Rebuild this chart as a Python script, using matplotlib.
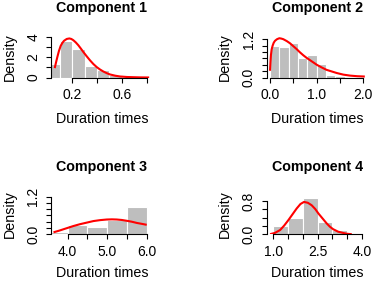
import matplotlib
matplotlib.use("Agg")
import matplotlib.pyplot as plt

plt.rcParams['font.family'] = ['Liberation Sans', 'DejaVu Sans']

# histogram bins (left edges), bar heights (density) and fitted curve, per component
c1_edges = [0.0, 0.1, 0.2, 0.3, 0.4, 0.5, 0.6, 0.7]
c1_heights = [1.30, 3.56, 2.83, 1.15, 0.69, 0.22, 0.08, 0.04]
c1_x = [0.058, 0.068, 0.079, 0.092, 0.106, 0.12, 0.133, 0.155, 0.176, 0.192, 0.208, 0.228,
        0.248, 0.268, 0.289, 0.316, 0.343, 0.37, 0.397, 0.424, 0.45, 0.477, 0.504, 0.545,
        0.585, 0.64, 0.69, 0.75, 0.82]
c1_y = [0.92, 1.45, 2.0, 2.6, 3.1, 3.4, 3.6, 3.78, 3.83, 3.78, 3.66, 3.44,
        3.17, 2.85, 2.5, 2.08, 1.68, 1.32, 1.02, 0.78, 0.59, 0.43, 0.30, 0.18,
        0.10, 0.05, 0.03, 0.01, 0.0]

c2_edges = [0.0, 0.2, 0.4, 0.6, 0.8, 1.0, 1.2, 1.4, 1.6, 1.8]
c2_heights = [0.99, 0.95, 1.09, 0.62, 0.69, 0.42, 0.09, 0.04, 0.02, 0.02]
c2_x = [0.0, 0.01, 0.02, 0.035, 0.057, 0.08, 0.107, 0.15, 0.2, 0.24, 0.285, 0.36, 0.43,
        0.5, 0.57, 0.64, 0.71, 0.78, 0.86, 0.93, 1.0, 1.1, 1.21, 1.32, 1.43, 1.57,
        1.71, 1.87, 2.03]
c2_y = [0.21, 0.48, 0.70, 0.88, 1.0, 1.09, 1.15, 1.2, 1.23, 1.22, 1.2, 1.14, 1.07,
        0.98, 0.89, 0.79, 0.70, 0.62, 0.54, 0.47, 0.40, 0.32, 0.24, 0.19, 0.14, 0.09,
        0.06, 0.04, 0.03]

c3_edges = [3.5, 4.0, 4.5, 5.0, 5.5]
c3_heights = [0.08, 0.30, 0.23, 0.45, 0.87]
c3_x = [3.64, 3.8, 3.97, 4.14, 4.31, 4.48, 4.65, 4.82, 4.99, 5.12, 5.24, 5.37, 5.49,
        5.62, 5.75, 5.88, 6.0]
c3_y = [0.06, 0.12, 0.19, 0.26, 0.32, 0.37, 0.42, 0.45, 0.47, 0.475, 0.47, 0.455, 0.43,
        0.40, 0.36, 0.33, 0.30]

c4_edges = [1.0, 1.5, 2.0, 2.5, 3.0, 3.5]
c4_heights = [0.19, 0.40, 0.87, 0.30, 0.10, 0.02]
c4_x = [0.89, 1.05, 1.23, 1.37, 1.51, 1.65, 1.79, 1.92, 2.04, 2.17, 2.30, 2.42, 2.53,
        2.67, 2.81, 2.92, 3.03, 3.2, 3.37, 3.5, 3.66]
c4_y = [0.0, 0.03, 0.10, 0.21, 0.34, 0.48, 0.62, 0.73, 0.78, 0.76, 0.70, 0.61, 0.50,
        0.38, 0.26, 0.18, 0.12, 0.06, 0.03, 0.01, 0.0]

panels = [
    ("Component 1", c1_edges, c1_heights, 0.1, c1_x, c1_y),
    ("Component 2", c2_edges, c2_heights, 0.2, c2_x, c2_y),
    ("Component 3", c3_edges, c3_heights, 0.5, c3_x, c3_y),
    ("Component 4", c4_edges, c4_heights, 0.5, c4_x, c4_y),
]

# axes limits / ticks (layout only)
xlims = [(0.028, 0.851), (-0.075, 2.109), (3.577, 6.159), (0.769, 4.227)]
ylims = [(0, 4.07), (0, 1.30), (0, 1.27), (0, 0.96)]
xticks = [[0.2, 0.4, 0.6, 0.8], [0.0, 0.5, 1.0, 1.5, 2.0],
          [4.0, 4.5, 5.0, 5.5, 6.0], [1.0, 1.5, 2.0, 2.5, 3.0, 3.5, 4.0]]
xticklabels = [["0.2", "", "0.6", ""], ["0.0", "", "1.0", "", "2.0"],
               ["4.0", "", "5.0", "", "6.0"], ["1.0", "", "", "2.5", "", "", "4.0"]]
yticks = [[0, 1, 2, 3, 4], [0, 0.2, 0.4, 0.6, 0.8, 1.0, 1.2],
          [0, 0.2, 0.4, 0.6, 0.8, 1.0, 1.2], [0, 0.2, 0.4, 0.6, 0.8]]
yticklabels = [["0", "", "2", "", "4"], ["0.0", "", "", "", "", "", "1.2"],
               ["0.0", "", "", "", "", "", "1.2"], ["0.0", "", "", "", "0.8"]]

W, H = 374, 282
fig = plt.figure(figsize=(W / 100, H / 100), dpi=100)

# plot regions in pixels: left, top, right, bottom
regions = [(51, 36, 153, 77.5), (266.5, 36, 368.5, 77.5),
           (51, 194.5, 153, 234.2), (266.5, 194.5, 368.5, 234.2)]
label_pads = [7, 7, 5, 5]

for i, (title, edges, heights, bw, cx, cy) in enumerate(panels):
    l, t, r, b = regions[i]
    ax = fig.add_axes([l / W, 1 - b / H, (r - l) / W, (b - t) / H])
    ax.bar(edges, heights, width=bw, align='edge', color='#bebebe',
           edgecolor='white', linewidth=0.8)
    ax.plot(cx, cy, color='red', lw=1.5, solid_capstyle='butt')
    ax.set_xlim(*xlims[i])
    ax.set_ylim(*ylims[i])
    ax.set_xticks(xticks[i])
    ax.set_xticklabels(xticklabels[i])
    ax.set_yticks(yticks[i])
    ax.set_yticklabels(yticklabels[i], rotation=90, va='center')
    for s in ['top', 'right']:
        ax.spines[s].set_visible(False)
    ax.spines['left'].set_bounds(yticks[i][0], yticks[i][-1])
    ax.spines['bottom'].set_bounds(xticks[i][0], xticks[i][-1])
    for s in ['left', 'bottom']:
        ax.spines[s].set_linewidth(0.8)
    ax.tick_params(direction='out', length=3.6, width=0.8, labelsize=10)
    ax.tick_params(axis='x', pad=4)
    ax.tick_params(axis='y', pad=4)
    ax.set_title(title, fontsize=10.3, fontweight='bold', pad=17)
    ax.set_xlabel("Duration times", fontsize=10.3, labelpad=label_pads[i])
    ax.set_ylabel("Density", fontsize=10.3, labelpad=7)

fig.savefig("out.png", dpi=100)
